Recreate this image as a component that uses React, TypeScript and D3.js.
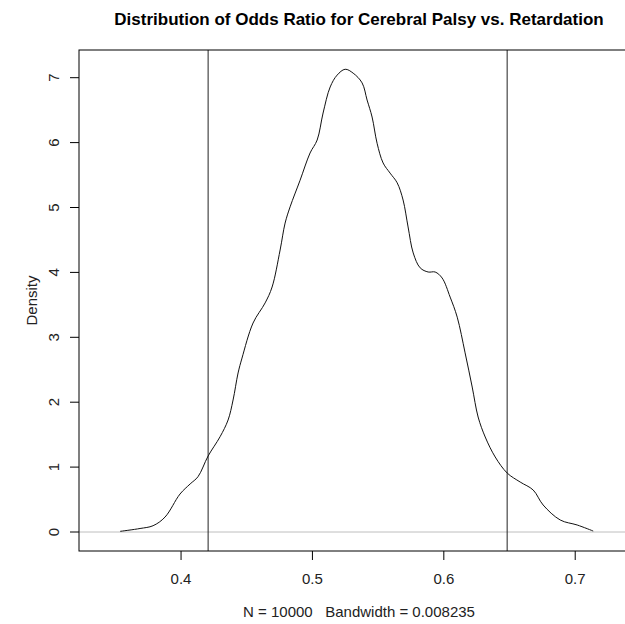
import * as d3 from "d3"

// density estimate (x = odds ratio, y = density)
const densityX = [
  0.3536, 0.3688, 0.3787, 0.3878, 0.3992, 0.4069, 0.4129, 0.4206, 0.4297, 0.4358,
  0.4396, 0.4434, 0.4464, 0.4548, 0.464, 0.4693, 0.4754, 0.4792, 0.483, 0.4906,
  0.4982, 0.5036, 0.5081, 0.5135, 0.5188, 0.5249, 0.531, 0.5378, 0.5416, 0.5454,
  0.5492, 0.5538, 0.5591, 0.5645, 0.569, 0.5728, 0.5767, 0.582, 0.5881, 0.5934,
  0.5987, 0.6048, 0.6102, 0.6162, 0.6216, 0.6261, 0.6315, 0.6391, 0.6482, 0.6581,
  0.668, 0.6756, 0.6886, 0.7015, 0.7137,
]
const densityY = [
  0.01, 0.054, 0.097, 0.23, 0.585, 0.74, 0.852, 1.171, 1.468, 1.726,
  2.034, 2.45, 2.68, 3.22, 3.53, 3.775, 4.345, 4.76, 5.01, 5.42,
  5.84, 6.04, 6.456, 6.857, 7.04, 7.13, 7.07, 6.92, 6.656, 6.394,
  5.99, 5.686, 5.53, 5.38, 5.115, 4.7, 4.3, 4.07, 4.006, 4.006,
  3.914, 3.62, 3.31, 2.76, 2.234, 1.772, 1.464, 1.156, 0.909, 0.77,
  0.647, 0.416, 0.185, 0.108, 0.015,
]
const intervalBounds = [0.4206, 0.6482]
const xTicks = [0.4, 0.5, 0.6, 0.7]
const yTicks = [0, 1, 2, 3, 4, 5, 6, 7]

const title = "Distribution of Odds Ratio for Cerebral Palsy vs. Retardation"
const subtitle = "N = 10000   Bandwidth = 0.008235"

export default function App() {
  const width = 625
  const height = 624
  const box = { left: 79, right: 648, top: 50, bottom: 551 }
  const font = "'Liberation Sans', Arial, sans-serif"

  const x = d3.scaleLinear().domain([0.32233, 0.7554]).range([box.left, box.right])
  const y = d3.scaleLinear().domain([-0.2927, 7.4268]).range([box.bottom, box.top])

  const points = densityX.map((v, i) => [v, densityY[i]] as [number, number])
  const line = d3
    .line<[number, number]>()
    .x((d) => x(d[0]))
    .y((d) => y(d[1]))
    .curve(d3.curveCatmullRom.alpha(0.5))

  const cx = 359
  const cy = (box.top + box.bottom) / 2

  return (
    <svg
      width={width}
      height={height}
      style={{ position: "absolute", left: 0, top: 0, background: "#fff" }}
      fontFamily={font}
    >
      <rect x={0} y={0} width={width} height={height} fill="#fff" />
      <text x={cx} y={25} textAnchor="middle" fontSize={17} fontWeight="bold" fill="#000">
        {title}
      </text>

      {/* zero reference line */}
      <line x1={box.left} x2={box.right} y1={y(0)} y2={y(0)} stroke="#bebebe" strokeWidth={1} />

      {intervalBounds.map((b) => (
        <line key={b} x1={x(b)} x2={x(b)} y1={box.top} y2={box.bottom} stroke="#222" strokeWidth={1} />
      ))}

      <path d={line(points) ?? ""} fill="none" stroke="#111" strokeWidth={1} />

      {/* box */}
      <rect
        x={box.left}
        y={box.top}
        width={box.right - box.left}
        height={box.bottom - box.top}
        fill="none"
        stroke="#000"
        strokeWidth={1}
      />

      {xTicks.map((t) => (
        <g key={t}>
          <line x1={x(t)} x2={x(t)} y1={box.bottom} y2={box.bottom + 9} stroke="#000" />
          <text x={x(t)} y={584} textAnchor="middle" fontSize={15} fill="#222">
            {d3.format(".1f")(t)}
          </text>
        </g>
      ))}

      {yTicks.map((t) => (
        <g key={t}>
          <line x1={box.left - 9} x2={box.left} y1={y(t)} y2={y(t)} stroke="#000" />
          <text
            transform={`translate(59,${y(t)}) rotate(-90)`}
            textAnchor="middle"
            fontSize={15}
            fill="#222"
          >
            {t}
          </text>
        </g>
      ))}

      <text transform={`translate(37,${cy}) rotate(-90)`} textAnchor="middle" fontSize={15} fill="#222">
        Density
      </text>
      <text x={cx} y={617} textAnchor="middle" fontSize={15} fill="#222" style={{ whiteSpace: "pre" }}>
        {subtitle}
      </text>
    </svg>
  )
}
